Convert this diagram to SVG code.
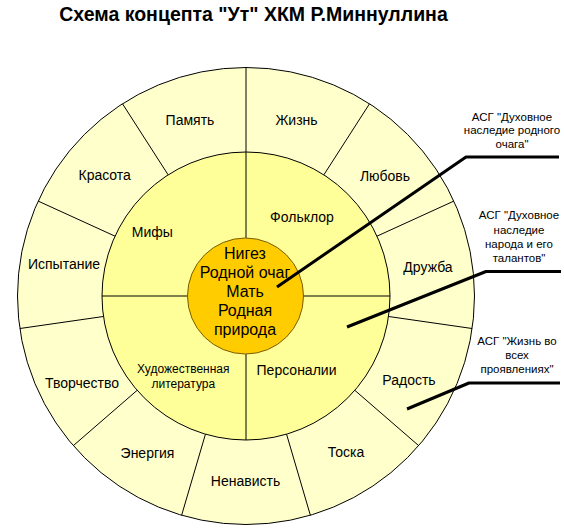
<svg xmlns="http://www.w3.org/2000/svg" width="564" height="529" viewBox="0 0 564 529">
<style>
text{font-family:"Liberation Sans",Arial,sans-serif;fill:#000;text-anchor:middle}
.t{font-size:19.5px;font-weight:bold}
.r{font-size:14px}
.s{font-size:12px}
.c{font-size:16px}
.a{font-size:11.5px}
.div{stroke:#000;stroke-width:1;fill:none}
.ptr{stroke:#000;stroke-width:3;fill:none;stroke-linejoin:round}
</style>
<rect width="564" height="529" fill="#fff"/>
<text class="t" x="253.5" y="21">Схема концепта "Ут" ХКМ Р.Миннуллина</text>
<g id="outer-ring">
<circle cx="246" cy="296" r="228.5" fill="#FFFFCC" stroke="#000" stroke-width="1"/>
<g class="div">
<line x1="246" y1="152" x2="246" y2="67.5"/>
<line x1="168.15" y1="174.85" x2="122.47" y2="103.76"/>
<line x1="115.02" y1="236.18" x2="38.16" y2="201.08"/>
<line x1="103.47" y1="316.49" x2="19.83" y2="328.52"/>
<line x1="137.18" y1="390.31" x2="73.32" y2="445.64"/>
<line x1="205.44" y1="434.17" x2="181.63" y2="515.25"/>
<line x1="286.56" y1="434.17" x2="310.37" y2="515.25"/>
<line x1="354.82" y1="390.31" x2="418.68" y2="445.64"/>
<line x1="388.53" y1="316.49" x2="472.17" y2="328.52"/>
<line x1="376.98" y1="236.18" x2="453.84" y2="201.08"/>
<line x1="323.85" y1="174.85" x2="369.53" y2="103.76"/>
</g>
</g>
<g id="node-pamyat"><text class="r" x="190" y="124.5">Память</text></g>
<g id="node-zhizn"><text class="r" x="296.5" y="124.5">Жизнь</text></g>
<g id="node-lyubov"><text class="r" x="385" y="180.5">Любовь</text></g>
<g id="node-druzhba"><text class="r" x="428" y="272">Дружба</text></g>
<g id="node-radost"><text class="r" x="409" y="385">Радость</text></g>
<g id="node-toska"><text class="r" x="346" y="456.5">Тоска</text></g>
<g id="node-nenavist"><text class="r" x="245.5" y="485.5">Ненависть</text></g>
<g id="node-energiya"><text class="r" x="147.5" y="458">Энергия</text></g>
<g id="node-tvorchestvo"><text class="r" x="82" y="388">Творчество</text></g>
<g id="node-ispytanie"><text class="r" x="64" y="269">Испытание</text></g>
<g id="node-krasota"><text class="r" x="104.7" y="180">Красота</text></g>
<g id="inner-ring">
<circle cx="246" cy="296" r="144" fill="#FFFF99" stroke="#000" stroke-width="1"/>
<line class="div" x1="246" y1="152" x2="246" y2="440"/>
<line class="div" x1="102" y1="296" x2="390" y2="296"/>
</g>
<g id="node-mify"><text class="r" x="152.3" y="237">Мифы</text></g>
<g id="node-folklor"><text class="r" x="302" y="221.5">Фольклор</text></g>
<g id="node-personalii"><text class="r" x="296.5" y="375">Персоналии</text></g>
<g id="node-literatura"><text class="s" x="183.3" y="372.8">Художественная</text><text class="s" x="183.3" y="387.8">литература</text></g>
<g id="node-center">
<circle cx="245.5" cy="296" r="58" fill="#FFCC00" stroke="#7a5c00" stroke-width="1"/>
<text class="c" x="245" y="259">Нигез</text>
<text class="c" x="245" y="278">Родной очаг</text>
<text class="c" x="245" y="297">Мать</text>
<text class="c" x="245" y="316">Родная</text>
<text class="c" x="245" y="335">природа</text>
</g>
<g id="connectors">
<polyline class="ptr" points="277,287 466,157 559,157"/>
<polyline class="ptr" points="347,327 486,271.5 561,271.5"/>
<polyline class="ptr" points="407,409 469,383 560,383"/>
</g>
<g id="label-asg1"><text class="a" x="512" y="120.7">АСГ "Духовное</text><text class="a" x="512" y="134.3">наследие родного</text><text class="a" x="512" y="148">очага"</text></g>
<g id="label-asg2"><text class="a" x="519" y="219">АСГ "Духовное</text><text class="a" x="519" y="233.5">наследие</text><text class="a" x="519" y="248">народа и его</text><text class="a" x="519" y="262.3">талантов"</text></g>
<g id="label-asg3"><text class="a" x="517" y="345">АСГ "Жизнь во</text><text class="a" x="517" y="359">всех</text><text class="a" x="517" y="373.3">проявлениях"</text></g>
</svg>
